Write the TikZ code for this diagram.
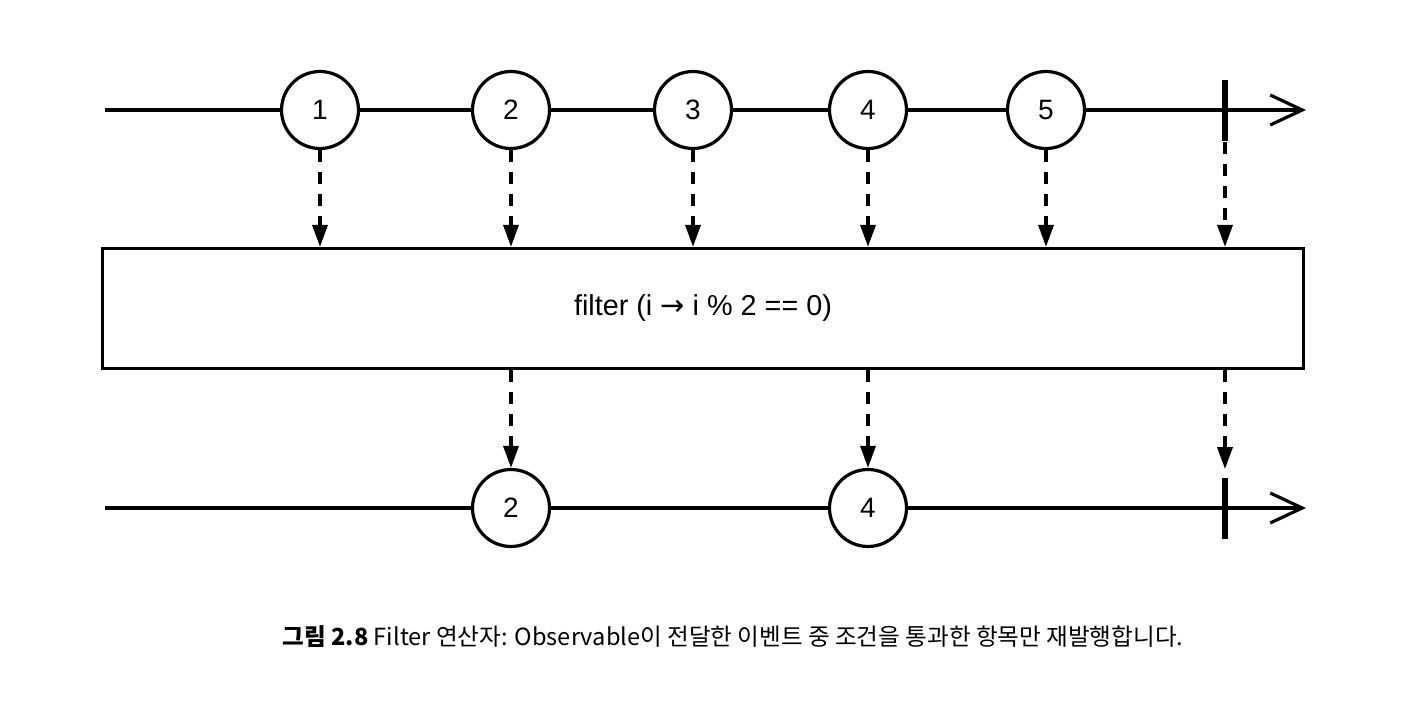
\documentclass[tikz,border=0pt]{standalone}
\usepackage{fontspec}
\setmainfont{Liberation Sans}
\newfontfamily\krfont{Noto Sans CJK KR}
\newfontfamily\symfont{DejaVu Sans}
\usetikzlibrary{arrows.meta,positioning}

\begin{document}
\begin{tikzpicture}[
  x=0.5pt,y=-0.5pt,
  marble/.style={draw,circle,line width=1.6pt,fill=white,minimum size=38.5pt,inner sep=0pt,font=\fontsize{14}{14}\selectfont},
  timeline/.style={line width=1.6pt,-{Straight Barb[length=16pt,width=15pt,line width=1.6pt]}},
  endbar/.style={fill=black,minimum width=3pt,minimum height=30.5pt,inner sep=0pt},
  opbox/.style={draw,line width=1.6pt,minimum width=600.5pt,minimum height=60pt,font=\fontsize{14.4}{16}\selectfont},
  flow/.style={line width=1.7pt,dash pattern=on 6pt off 5pt,-{Triangle[length=11pt,width=7.5pt]}},
  captext/.style={font=\krfont\fontsize{11.8}{13}\selectfont}
]
\useasboundingbox (0,0) rectangle (1426,706);

\coordinate (s1) at (105,110);
\coordinate (e1) at (1306,110);
\draw[timeline] (s1) -- (e1);
\node[marble] (a1) at (320,110) {1};
\node[marble] (a2) at (511,110) {2};
\node[marble] (a3) at (693,110) {3};
\node[marble] (a4) at (868,110) {4};
\node[marble] (a5) at (1046,110) {5};
\node[endbar] (t1) at (1225,111) {};

\node[opbox] (op) at (703,308.5) {filter (i {\symfont\fontsize{14.5}{14}\selectfont →} i \% 2 == 0)};

\draw[flow] (a1) -- (a1 |- op.north);
\draw[flow] (a2) -- (a2 |- op.north);
\draw[flow] (a3) -- (a3 |- op.north);
\draw[flow] (a4) -- (a4 |- op.north);
\draw[flow] (a5) -- (a5 |- op.north);
\draw[flow] (t1.south) -- (t1.south |- op.north);

\coordinate (s2) at (105,508);
\coordinate (e2) at (1306,508);
\draw[timeline] (s2) -- (e2);
\node[marble] (b2) at (511,508) {2};
\node[marble] (b4) at (868,508) {4};
\node[endbar] (t2) at (1225,508) {};

\draw[flow] (op.south -| b2) -- (b2);
\draw[flow] (op.south -| b4) -- (b4);
\draw[flow,shorten >=4pt] (op.south -| t2) -- (t2.north);

\node[captext] (caption) at (733,637) {\textbf{그림 2.8} Filter 연산자: Observable이 전달한 이벤트 중 조건을 통과한 항목만 재발행합니다.};
\end{tikzpicture}
\end{document}
